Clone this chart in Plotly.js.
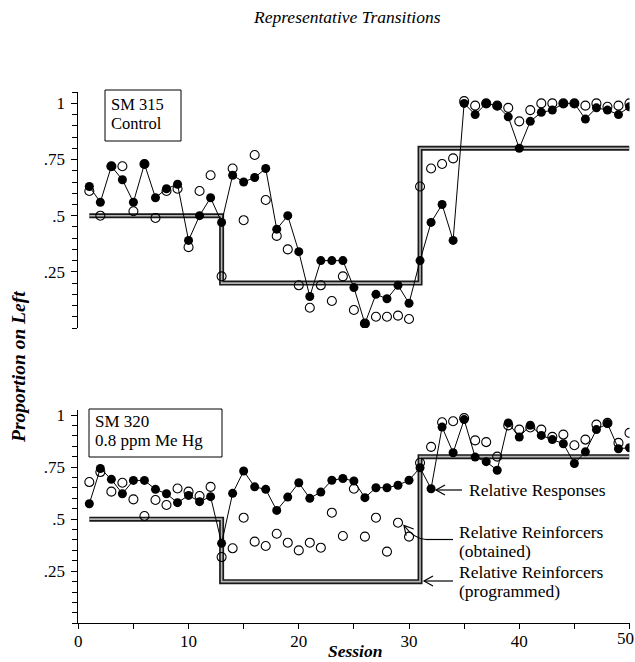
<!DOCTYPE html>
<html>
<head>
<meta charset="utf-8">
<script src="https://cdn.plot.ly/plotly-3.0.1.min.js"></script>
<style>html,body{margin:0;padding:0;background:#fff;}#chart{width:635px;height:662px;}</style>
</head>
<body>
<div id="chart"></div>
<script>
// ---------- data ----------
const sessions = [1,2,3,4,5,6,7,8,9,10,11,12,13,14,15,16,17,18,19,20,21,22,23,24,25,26,27,28,29,30,31,32,33,34,35,36,37,38,39,40,41,42,43,44,45,46,47,48,49,50];

// SM 315 Control
const responsesTop = [0.63,0.56,0.72,0.66,0.56,0.73,0.58,0.62,0.64,0.39,0.50,0.58,0.47,0.68,0.65,0.67,0.71,0.44,0.50,0.34,0.14,0.30,0.30,0.30,0.18,0.02,0.15,0.13,0.19,0.11,0.30,0.47,0.55,0.39,1.00,0.95,1.00,0.99,0.94,0.80,0.92,0.96,0.97,1.00,1.00,0.93,0.98,0.97,0.95,0.985];
const obtainedTop = [0.61,0.50,0.72,0.72,0.52,0.73,0.49,0.61,0.62,0.36,0.61,0.68,0.23,0.71,0.48,0.77,0.57,0.41,0.35,0.19,0.09,0.19,0.12,0.23,0.08,0.02,0.05,0.05,0.055,0.04,0.63,0.71,0.73,0.755,1.01,0.99,1.00,0.99,0.98,0.92,0.97,1.00,1.00,1.00,1.00,0.99,1.00,0.985,0.99,1.00];

// SM 320 0.8 ppm Me Hg
const responsesBottom = [0.574,0.743,0.691,0.622,0.686,0.686,0.643,0.622,0.579,0.614,0.584,0.608,0.384,0.624,0.731,0.655,0.643,0.542,0.606,0.675,0.600,0.630,0.687,0.695,0.683,0.603,0.651,0.651,0.663,0.687,0.747,0.646,0.942,0.819,0.978,0.798,0.776,0.735,0.962,0.894,0.951,0.902,0.882,0.862,0.767,0.823,0.930,0.959,0.838,0.843];
const obtainedBottom = [0.678,0.726,0.632,0.675,0.595,0.515,0.592,0.568,0.647,0.632,0.611,0.655,0.318,0.36,0.507,0.392,0.371,0.43,0.387,0.35,0.387,0.363,0.531,0.419,0.646,0.416,0.507,0.344,0.483,0.416,0.771,0.847,0.965,0.970,0.985,0.878,0.870,0.80,0.95,0.930,0.94,0.93,0.895,0.906,0.855,0.882,0.954,0.962,0.866,0.914];

// Programmed relative reinforcers (phase changes)
const programmedSessions = [1, 13, 31, 50];
const programmedValues = [0.5, 0.2, 0.8, 0.8];

// Tick labels
const yTickVals = [0.25, 0.5, 0.75, 1];
const yTickText = ['.25', '.5', '.75', '1'];
const xTickVals = [0, 10, 20, 30, 40, 50];
const xTickText = ['0', '10', '20', '30', '40', ''];
const xLastTickText = '50';

// ---------- drawing ----------
const W = 635, H = 662;
const px = v => v / W;
const py = v => 1 - v / H;
const FONT = 'Liberation Serif, Times New Roman, serif';

function panelTraces(yaxis, resp, obt) {
  return [
    {x: programmedSessions, y: programmedValues, xaxis: 'x', yaxis: yaxis, mode: 'lines',
     line: {shape: 'hv', color: '#1a1a1a', width: 5}, hoverinfo: 'skip'},
    {x: programmedSessions, y: programmedValues, xaxis: 'x', yaxis: yaxis, mode: 'lines',
     line: {shape: 'hv', color: '#b5b5b5', width: 1.6}, hoverinfo: 'skip'},
    {x: sessions, y: obt, xaxis: 'x', yaxis: yaxis, mode: 'markers',
     marker: {symbol: 'circle-open', size: 9, color: '#000', line: {width: 1.1, color: '#000'}}},
    {x: sessions, y: resp, xaxis: 'x', yaxis: yaxis, mode: 'lines+markers',
     line: {color: '#000', width: 1},
     marker: {symbol: 'circle', size: 9, color: '#000'}}
  ];
}

const data = [].concat(
  panelTraces('y2', responsesTop, obtainedTop),
  panelTraces('y', responsesBottom, obtainedBottom)
);

const yAxisCommon = {
  anchor: 'x', tickmode: 'array', tickvals: yTickVals, ticktext: yTickText,
  ticks: 'outside', ticklen: 6, tickwidth: 1, tickcolor: '#000',
  minor: {tickmode: 'linear', tick0: 0, dtick: 0.05, ticks: 'outside', ticklen: 5, tickwidth: 1, tickcolor: '#000'},
  showline: true, linecolor: '#000', linewidth: 1,
  showgrid: false, zeroline: false,
  tickfont: {family: FONT, size: 17, color: '#000'},
  ticklabelstandoff: 3
};

function arrowShapes(tailX, tailY, headX, headY) {
  const dx = tailX - headX, dy = tailY - headY;
  const len = Math.sqrt(dx * dx + dy * dy);
  const ux = dx / len, uy = dy / len;
  const L = 9, Wd = 5;
  const b1x = headX + ux * L - uy * Wd, b1y = headY + uy * L + ux * Wd;
  const b2x = headX + ux * L + uy * Wd, b2y = headY + uy * L - ux * Wd;
  return {
    type: 'path', xref: 'paper', yref: 'paper',
    path: `M ${px(b1x)} ${py(b1y)} L ${px(headX)} ${py(headY)} L ${px(b2x)} ${py(b2y)}`,
    line: {color: '#000', width: 1.2}
  };
}
function seg(x0, y0, x1, y1) {
  return {type: 'line', xref: 'paper', yref: 'paper', x0: px(x0), y0: py(y0), x1: px(x1), y1: py(y1),
          line: {color: '#000', width: 1.2}};
}

const shapes = [
  {type: 'rect', xref: 'paper', yref: 'paper', x0: px(105), x1: px(181), y0: py(141), y1: py(90),
   line: {color: '#000', width: 1}, fillcolor: 'rgba(0,0,0,0)'},
  {type: 'rect', xref: 'paper', yref: 'paper', x0: px(89), x1: px(222), y0: py(457), y1: py(409),
   line: {color: '#000', width: 1}, fillcolor: 'rgba(0,0,0,0)'},
  // Relative Responses arrow
  seg(462, 490, 436, 490), arrowShapes(462, 490, 436, 490),
  // Relative Reinforcers (obtained) arrow
  seg(453, 539.5, 426, 539.5),
  {type: 'path', xref: 'paper', yref: 'paper',
   path: `M ${px(426)} ${py(539.5)} Q ${px(414)} ${py(539)} ${px(404)} ${py(525.5)}`,
   line: {color: '#000', width: 1.2}},
  arrowShapes(414, 537, 404, 525.5),
  // Relative Reinforcers (programmed) arrow
  seg(453, 581, 424, 581), arrowShapes(453, 581, 424, 581)
];

function txt(text, x, y, size, extra) {
  return Object.assign({text: text, xref: 'paper', yref: 'paper', x: px(x), y: py(y),
    xanchor: 'left', yanchor: 'middle', showarrow: false,
    font: {family: FONT, size: size, color: '#000'}}, extra || {});
}

const annotations = [
  txt('<i>Representative Transitions</i>', 347, 17, 17.5, {xanchor: 'center'}),
  txt('<b><i>Proportion on Left</i></b>', 18, 367, 19.5, {xanchor: 'center', textangle: -90}),
  txt('<b><i>Session</i></b>', 355, 662, 17.5, {xanchor: 'center', yanchor: 'bottom', y: 0, borderpad: 0}),
  // last x tick label, kept inside the page edge
  {text: xLastTickText, xref: 'x', yref: 'paper', x: 50, y: py(638.5), xanchor: 'right', yanchor: 'middle',
   xshift: 5.5, showarrow: false, borderpad: 0, font: {family: FONT, size: 17, color: '#000'}},
  txt('SM 315', 109, 104, 16.5),
  txt('Control', 109, 123.5, 16.5),
  txt('SM 320', 93, 421, 17),
  txt('0.8 ppm Me Hg', 93, 440.5, 17),
  txt('Relative Responses', 467, 490, 17.5),
  txt('Relative Reinforcers', 457, 531.5, 17.5),
  txt('(obtained)', 457, 550.5, 17.5),
  txt('Relative Reinforcers', 457, 571.5, 17.5),
  txt('(programmed)', 457, 590.5, 17.5)
];

const layout = {
  width: W, height: H,
  margin: {l: 0, r: 0, t: 0, b: 0},
  paper_bgcolor: '#fff', plot_bgcolor: 'rgba(0,0,0,0)',
  showlegend: false,
  font: {family: FONT, color: '#000'},
  xaxis: {
    domain: [px(78.3), px(629.5)], range: [0, 50], anchor: 'y',
    tickmode: 'array', tickvals: xTickVals, ticktext: xTickText,
    ticks: 'outside', ticklen: 5, tickwidth: 1, tickcolor: '#000',
    minor: {tickmode: 'linear', tick0: 0, dtick: 5, ticks: 'outside', ticklen: 5, tickwidth: 1, tickcolor: '#000'},
    showline: true, linecolor: '#000', linewidth: 1,
    showgrid: false, zeroline: false,
    ticklabelstandoff: -3,
    tickfont: {family: FONT, size: 17, color: '#000'}
  },
  yaxis: Object.assign({}, yAxisCommon, {domain: [py(623.3), py(410)], range: [0, 1.024]}),
  yaxis2: Object.assign({}, yAxisCommon, {domain: [py(328), py(91.7)], range: [0, 1.052]}),
  shapes: shapes,
  annotations: annotations
};

Plotly.newPlot('chart', data, layout, {displayModeBar: false, staticPlot: true});
</script>
</body>
</html>
